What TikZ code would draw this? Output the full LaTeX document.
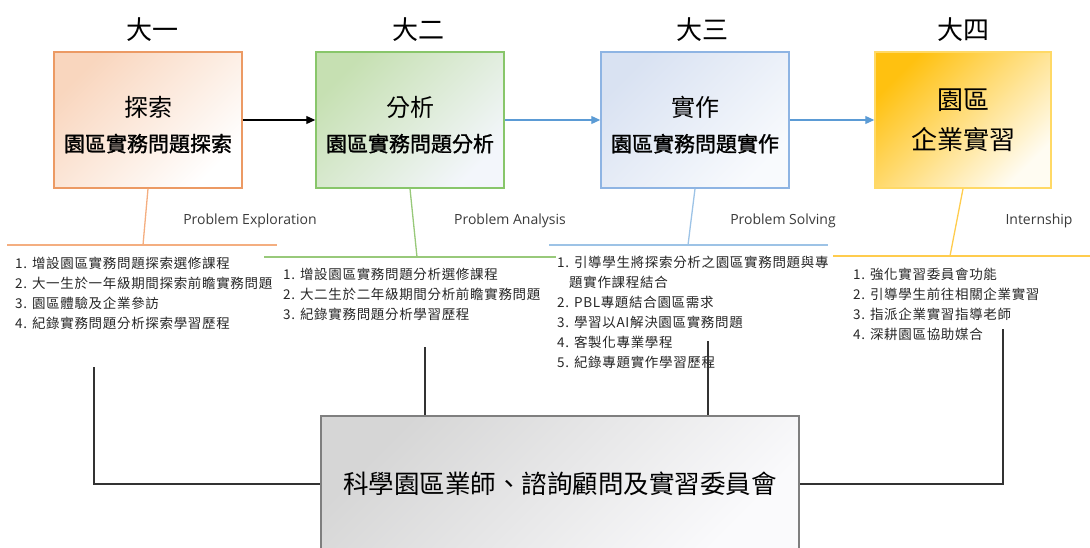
\documentclass[tikz,border=0pt]{standalone}
\usepackage{fontspec}
\setmainfont{Noto Sans CJK TC}
\newfontfamily\enfont{Open Sans}
\newfontfamily\listfont[LetterSpace=5]{Noto Sans CJK TC}
\newfontfamily\subfont[FakeBold=1.2]{Noto Sans CJK TC}
\usetikzlibrary{arrows.meta}
\definecolor{orangeB}{HTML}{EC9A64}
\definecolor{orangeF}{HTML}{F9D6BE}
\definecolor{orangeL}{HTML}{F4AE80}
\definecolor{greenB}{HTML}{88C66A}
\definecolor{greenF}{HTML}{C6E0B2}
\definecolor{greenE}{HTML}{F3F6FB}
\definecolor{greenL}{HTML}{98C97A}
\definecolor{blueB}{HTML}{8EB4E3}
\definecolor{blueF}{HTML}{D9E2F2}
\definecolor{blueE}{HTML}{F8FAFD}
\definecolor{blueL}{HTML}{9DC3E6}
\definecolor{blueA}{HTML}{5B9BD5}
\definecolor{goldB}{HTML}{FFD966}
\definecolor{goldF}{HTML}{FFC110}
\definecolor{goldE}{HTML}{FFFCF2}
\definecolor{goldL}{HTML}{FFCC4D}
\definecolor{grayB}{HTML}{7F7F7F}
\definecolor{grayF}{HTML}{D6D6D6}
\definecolor{grayE}{HTML}{FAFAFC}
\definecolor{engray}{HTML}{3A3A3A}
\definecolor{itemgray}{HTML}{262626}
\definecolor{conngray}{HTML}{333333}
\begin{document}
\begin{tikzpicture}[x=1pt,y=-1pt,
  phase/.style={draw, line width=1.5pt, minimum width=188, minimum height=136, inner sep=0, align=center},
  boxtext/.style={align=center, inner sep=0},
  yearlabel/.style={font=\fontsize{26}{30}\selectfont},
  englabel/.style={font=\enfont\fontsize{14}{16}\selectfont, text=engray},
  listtext/.style={anchor=north west, align=left, inner sep=0, font=\listfont\fontsize{13.5}{20}\selectfont, text=itemgray},
  hline/.style={line width=2pt},
  dropline/.style={line width=1.3pt},
  conn/.style={line width=1.2pt, draw=conngray},
  flow/.style={line width=1.2pt, -{Triangle[length=9pt,width=8pt]}}
]
\useasboundingbox (0,0) rectangle (1090,548);

% year labels
\node[yearlabel] (y1) at (152,30) {大一};
\node[yearlabel] (y2) at (418,30) {大二};
\node[yearlabel] (y3) at (702,30) {大三};
\node[yearlabel] (y4) at (963,30) {大四};

% phase boxes
\node[phase, draw=orangeB, top color=orangeF, bottom color=white, shading angle=45] (b1) at (148,120) {};
\node[phase, draw=greenB, top color=greenF, bottom color=greenE, shading angle=45] (b2) at (410,120) {};
\node[phase, draw=blueB, top color=blueF, bottom color=blueE, shading angle=45] (b3) at (695,120) {};
\node[phase, minimum width=176, draw=goldB, top color=goldF, bottom color=goldE, shading angle=45,
  font=\fontsize{26}{40}\selectfont] (b4) at (963,120) {園區\\企業實習};
\node[boxtext] (b1t) at (148,125)
  {{\fontsize{24}{28}\selectfont 探索}\\[14pt]{\subfont\fontsize{21}{24}\selectfont 園區實務問題探索}};
\node[boxtext] (b2t) at (410,125)
  {{\fontsize{24}{28}\selectfont 分析}\\[14pt]{\subfont\fontsize{21}{24}\selectfont 園區實務問題分析}};
\node[boxtext] (b3t) at (695,125)
  {{\fontsize{24}{28}\selectfont 實作}\\[14pt]{\subfont\fontsize{21}{24}\selectfont 園區實務問題實作}};

% flow arrows
\draw[flow, draw=black, fill=black] (b1) -- (b2);
\draw[flow, draw=blueA, fill=blueA] (b2) -- (b3);
\draw[flow, draw=blueA, fill=blueA] (b3) -- (b4);

% english labels
\node[englabel] (e1) at (250,221) {Problem Exploration};
\node[englabel] (e2) at (510,221) {Problem Analysis};
\node[englabel] (e3) at (783,221) {Problem Solving};
\node[englabel] (e4) at (1039,221) {Internship};

% colored bracket lines
\coordinate (t1) at (143,245);
\coordinate (t2) at (417,257);
\coordinate (t3) at (688,245);
\coordinate (t4) at (950,256);
\coordinate (h1a) at (7,245);   \coordinate (h1b) at (277,245);
\coordinate (h2a) at (264,257); \coordinate (h2b) at (556,257);
\coordinate (h3a) at (549,245); \coordinate (h3b) at (828,245);
\coordinate (h4a) at (833,256); \coordinate (h4b) at (1092,256);
\draw[dropline, draw=orangeL] (b1.south) -- (t1);
\draw[dropline, draw=greenL] (b2.south) -- (t2);
\draw[dropline, draw=blueL] (b3.south) -- (t3);
\draw[dropline, draw=goldL] (b4.south) -- (t4);
\draw[hline, draw=orangeL] (h1a) -- (h1b);
\draw[hline, draw=greenL] (h2a) -- (h2b);
\draw[hline, draw=blueL] (h3a) -- (h3b);
\draw[hline, draw=goldL] (h4a) -- (h4b);

% lists
\node[listtext] (l1) at (15,257) {1. 增設園區實務問題探索選修課程\\2. 大一生於一年級期間探索前瞻實務問題\\3. 園區體驗及企業參訪\\4. 紀錄實務問題分析探索學習歷程};
\node[listtext] (l2) at (283,268) {1. 增設園區實務問題分析選修課程\\2. 大二生於二年級期間分析前瞻實務問題\\3. 紀錄實務問題分析學習歷程};
\node[listtext] (l3) at (557,256) {1. 引導學生將探索分析之園區實務問題與專\\\hspace*{12pt}題實作課程結合\\2. PBL專題結合園區需求\\3. 學習以AI解決園區實務問題\\4. 客製化專業學程\\5. 紀錄專題實作學習歷程};
\node[listtext] (l4) at (853,268) {1. 強化實習委員會功能\\2. 引導學生前往相關企業實習\\3. 指派企業實習指導老師\\4. 深耕園區協助媒合};

% bottom committee box
\node[draw=grayB, line width=1.5pt, top color=grayF, bottom color=grayE, shading angle=45,
  minimum width=478, minimum height=136, inner sep=0, font=\fontsize{25.5}{30}\selectfont] (c) at (560,484)
  {科學園區業師、諮詢顧問及實習委員會};

% connectors to committee
\coordinate (k1) at (94,367);
\coordinate (k2) at (425,347);
\coordinate (k3) at (708,341);
\coordinate (k4) at (1003,329);
\draw[conn] (k1) |- (c.west);
\draw[conn] (k2) -- (k2 |- c.north);
\draw[conn] (k3) -- (k3 |- c.north);
\draw[conn] (k4) |- (c.east);
\end{tikzpicture}
\end{document}
